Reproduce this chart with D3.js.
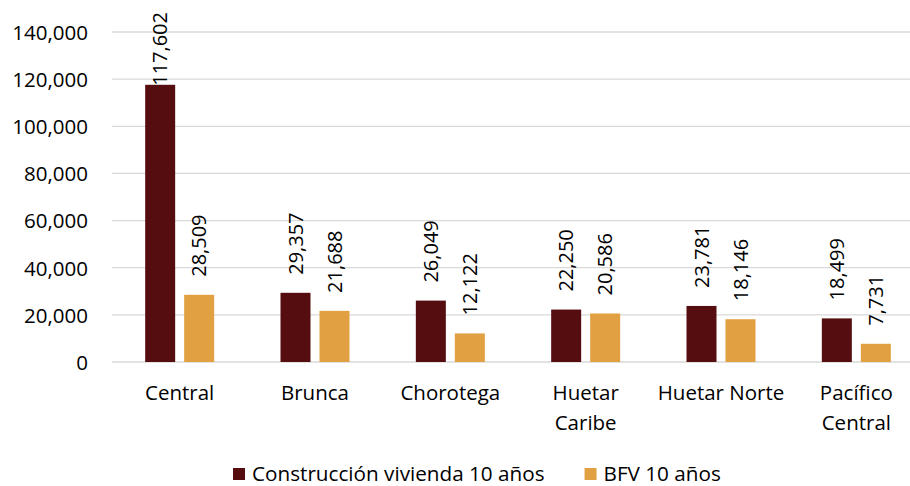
<!DOCTYPE html>
<html>
  <head>
    <meta charset="UTF-8" />
    <title>Construcción vivienda vs BFV</title>
    <style>
      body { margin: 0; background: #fff; }
      text { font-family: "Open Sans", "Noto Sans", sans-serif; fill: #000; }
    </style>
    <script src="https://d3js.org/d3.v7.min.js"></script>
  </head>
  <body>
    <svg id="viz" width="910" height="486"></svg>
    <script type="text/javascript">
      // data
      var regiones = ["Central", "Brunca", "Chorotega", "Huetar Caribe", "Huetar Norte", "Pacífico Central"];
      var regionLines = [["Central"], ["Brunca"], ["Chorotega"], ["Huetar", "Caribe"], ["Huetar Norte"], ["Pacífico", "Central"]];
      var series = ["Construcción vivienda 10 años", "BFV 10 años"];
      var construccion = [117602, 29357, 26049, 22250, 23781, 18499];
      var bfv = [28509, 21688, 12122, 20586, 18146, 7731];
      var yTicks = [0, 20000, 40000, 60000, 80000, 100000, 120000, 140000];
      var colors = ["#560d10", "#e1a041"];

      var svg = d3.select("#viz");
      // plot box (note: "top" is taken by window, so use plotTop)
      var plotLeft = 112, plotRight = 924, plotTop = 32, plotBottom = 362;
      var fmt = d3.format(",");

      var x0 = d3.scaleBand().domain(regiones).range([plotLeft, plotRight]);
      var bw = x0.bandwidth();
      var x1 = d3.scaleBand().domain(series)
        .range([bw / 2 - 34.5, bw / 2 + 34.5]).paddingInner(9 / 39);
      var y = d3.scaleLinear().domain([0, 140000]).range([plotBottom, plotTop]);
      var color = d3.scaleOrdinal().domain(series).range(colors);

      // grid
      svg.append("g").selectAll("line").data(yTicks).join("line")
        .attr("x1", plotLeft).attr("x2", plotRight)
        .attr("y1", (d) => y(d)).attr("y2", (d) => y(d))
        .attr("stroke", "#d9d9d9").attr("stroke-width", 1.3);

      // y axis labels
      var yAxis = d3.axisLeft(y).tickValues(yTicks).tickFormat(fmt).tickSize(0).tickPadding(0);
      var ga = svg.append("g").attr("transform", "translate(88,0)").call(yAxis);
      ga.select(".domain").remove();
      ga.selectAll("text").attr("font-family", "Open Sans").attr("font-size", 20.5)
        .attr("fill", "#000").attr("dy", "0.36em");

      var rows = regiones.map((r, i) => ({ region: r, values: [construccion[i], bfv[i]] }));

      var groups = svg.append("g").selectAll("g").data(rows).join("g")
        .attr("transform", (d) => "translate(" + x0(d.region) + ",0)");

      groups.selectAll("rect")
        .data((d) => d.values.map((v, j) => ({ s: series[j], v: v })))
        .join("rect")
        .attr("x", (d) => x1(d.s))
        .attr("width", x1.bandwidth())
        .attr("y", (d) => y(d.v))
        .attr("height", (d) => y(0) - y(d.v))
        .attr("fill", (d) => color(d.s));

      // value labels, rotated
      groups.selectAll("text.val")
        .data((d) => d.values.map((v, j) => ({ s: series[j], v: v })))
        .join("text")
        .attr("class", "val")
        .attr("font-size", 20)
        .attr("text-anchor", "start")
        .text((d) => fmt(d.v))
        .attr("transform", function (d) {
          var len = this.getComputedTextLength();
          var cx = x1(d.s) + x1.bandwidth() / 2 + 7;
          var yy = Math.max(y(d.v) - 18, 12 + len);
          return "translate(" + cx + "," + yy + ") rotate(-90)";
        });

      // category labels
      var cat = svg.append("g").selectAll("text").data(regiones).join("text")
        .attr("x", (d) => x0(d) + bw / 2)
        .attr("y", 400)
        .attr("text-anchor", "middle")
        .attr("font-size", 20.5);
      cat.each(function (d, i) {
        d3.select(this).selectAll("tspan").data(regionLines[i]).join("tspan")
          .attr("x", x0(d) + bw / 2)
          .attr("dy", (l, k) => (k === 0 ? 0 : 30))
          .text((l) => l);
      });

      // legend
      var leg = svg.append("g");
      var items = leg.selectAll("g").data(series).join("g");
      items.append("rect").attr("width", 12).attr("height", 12).attr("y", -13)
        .attr("fill", (d) => color(d));
      items.append("text").attr("x", 19).attr("y", 0).attr("font-size", 20.7)
        .text((d) => d);
      var xs = 233;
      items.each(function () {
        d3.select(this).attr("transform", "translate(" + xs + ",481)");
        xs += 19 + d3.select(this).select("text").node().getComputedTextLength() + 40;
      });
    </script>
  </body>
</html>
